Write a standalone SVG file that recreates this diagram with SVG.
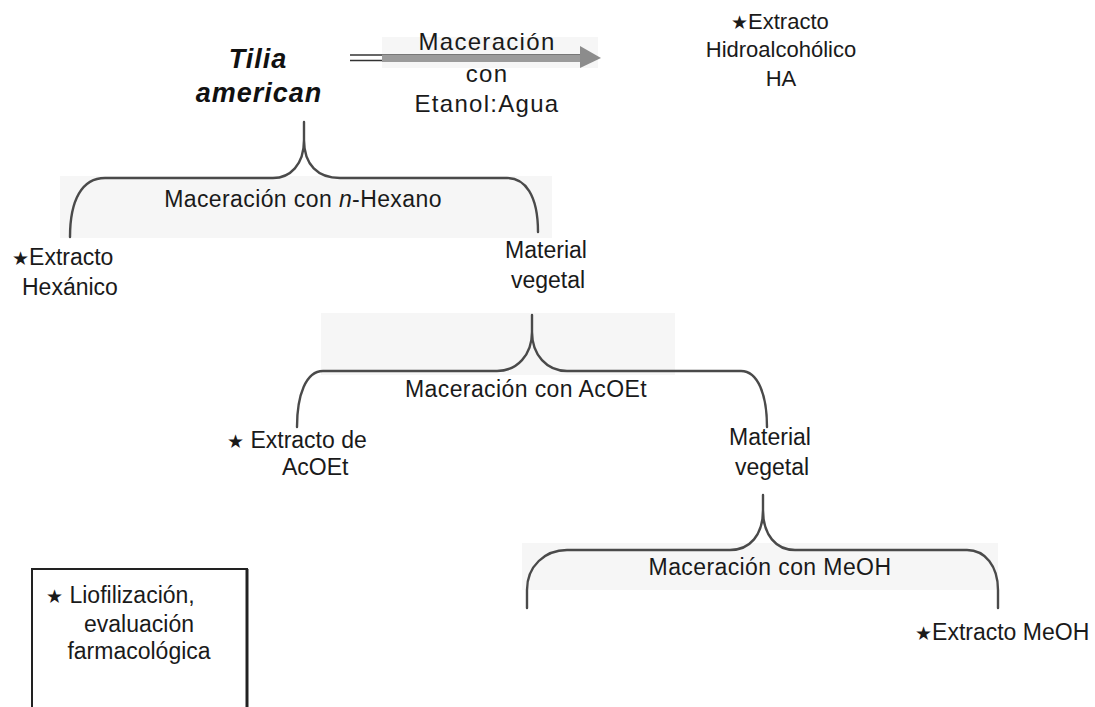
<svg xmlns="http://www.w3.org/2000/svg" width="1095" height="707" viewBox="0 0 1095 707">
<style>
.t{font-family:'Liberation Sans',Arial,sans-serif;font-size:23px;fill:#1a1a1a}
.c{text-anchor:middle}
.lbl{letter-spacing:0.4px}
.top{font-size:24px;letter-spacing:1.3px}
.sm{font-size:22px}
.title{font-family:'Liberation Sans',Arial,sans-serif;font-size:27px;font-weight:bold;font-style:italic;letter-spacing:1px;text-anchor:middle;fill:#111}
.star{font-family:'DejaVu Sans',sans-serif;font-size:19px}
.br{fill:none;stroke:#4a4a4a;stroke-width:2.4;stroke-linecap:round}
.bg{fill:#f6f6f6}
</style>
<rect width="1095" height="707" fill="#ffffff"/>
<g id="backgrounds">
<rect class="bg" x="382" y="37" width="216" height="31"/>
<rect class="bg" x="60" y="176" width="492" height="62"/>
<rect class="bg" x="321" y="313" width="354" height="62"/>
<rect class="bg" x="522" y="543" width="476" height="47"/>
</g>
<g id="connectors">
<g id="arrow-hidro">
<line x1="350" y1="55" x2="585" y2="55" stroke="#333" stroke-width="1.3"/>
<line x1="350" y1="60.5" x2="585" y2="60.5" stroke="#333" stroke-width="1.3"/>
<rect x="382" y="54" width="200" height="8" fill="#9b9b9b"/>
<line x1="382" y1="54.5" x2="582" y2="54.5" stroke="#777" stroke-width="1"/>
<polygon points="580,46 601,58 580,68" fill="#8c8c8c"/>
</g>
<path id="bracket-hexano" class="br" d="M70,237 C70,200 82,178 105,178 L273,178 C290,178 304,165 304,140 C304,165 318,178 340,178 L507,178 C525,178 538,195 538,232 M304,140 V122"/>
<path id="bracket-acoet" class="br" d="M297,427 C297,395 306,371 323,371 L497,371 C517,371 532,355 532,332 C532,355 547,371 567,371 L741,371 C758,371 767,395 767,427 M532,332 V315"/>
<path id="bracket-meoh" class="br" d="M527,608 V590 C527,566 545,550 567,550 L730,550 C750,550 763,535 763,510 C763,535 776,550 795,550 L967,550 C985,550 998,566 998,590 V608 M763,510 V495"/>
</g>
<g id="node-tilia">
<text class="title" x="258" y="68">Tilia</text>
<text class="title" x="259" y="102">american</text>
</g>
<g id="label-etanol">
<text class="t c top" x="487" y="50">Maceración</text>
<text class="t c top" x="487" y="82">con</text>
<text class="t c top" x="487" y="112">Etanol:Agua</text>
</g>
<g id="node-hidro">
<text class="t sm" x="731" y="29"><tspan class="star">★</tspan>Extracto</text>
<text class="t c sm" x="781" y="57">Hidroalcohólico</text>
<text class="t c sm" x="781" y="86">HA</text>
</g>
<g id="label-hexano">
<text class="t c lbl" x="303" y="207">Maceración con <tspan font-style="italic">n</tspan>-Hexano</text>
</g>
<g id="node-hexanico">
<text class="t" x="12" y="265"><tspan class="star">★</tspan>Extracto</text>
<text class="t" x="22" y="295">Hexánico</text>
</g>
<g id="node-material1">
<text class="t c" x="546" y="258">Material</text>
<text class="t c" x="548" y="288">vegetal</text>
</g>
<g id="label-acoet">
<text class="t c lbl" x="526" y="397">Maceración con AcOEt</text>
</g>
<g id="node-acoet">
<text class="t" x="227" y="448"><tspan class="star">★</tspan> Extracto de</text>
<text class="t" x="282" y="475">AcOEt</text>
</g>
<g id="node-material2">
<text class="t c" x="770" y="445">Material</text>
<text class="t c" x="772" y="475">vegetal</text>
</g>
<g id="label-meoh">
<text class="t c lbl" x="770" y="575">Maceración con MeOH</text>
</g>
<g id="node-meoh">
<text class="t" x="915" y="640"><tspan class="star">★</tspan>Extracto MeOH</text>
</g>
<g id="legend">
<path d="M32,707 V569 H247 V707" fill="none" stroke="#222" stroke-width="2"/>
<line x1="247" y1="569" x2="247" y2="707" stroke="#222" stroke-width="3"/>
<text class="t" x="46" y="603"><tspan class="star">★</tspan> Liofilización,</text>
<text class="t c" x="139" y="632">evaluación</text>
<text class="t c" x="139" y="659">farmacológica</text>
</g>
</svg>
